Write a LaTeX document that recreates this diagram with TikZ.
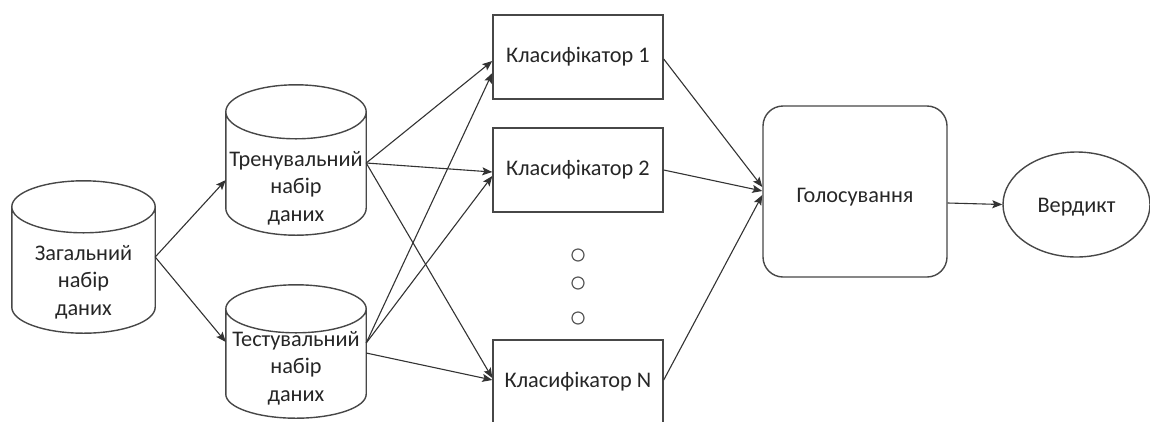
\documentclass[tikz,border=0pt]{standalone}
\usepackage{fontspec}
\setmainfont{Carlito}
\usetikzlibrary{arrows.meta,calc,shapes.geometric}
\tikzset{
  ln/.style={draw=black!72, line width=1.4pt},
  arr/.style={draw=black!80, line width=1.1pt, -{Stealth[length=10pt,width=8pt,inset=2pt]}},
  txt/.style={text=black!85, align=center, font=\fontsize{22.3}{27.5}\selectfont, inner sep=0pt},
  area/.style={draw=none, inner sep=0pt, minimum width=#1},
  boxk/.style={ln, rectangle, minimum width=170pt, minimum height=84pt, txt},
  dotc/.style={draw=black!65, line width=1.2pt},
}
\newcommand\cylout[2]{%
  \draw[ln] let \p1=(#1.north west), \p2=(#1.south east), \n1={(\x2-\x1)/2} in
    ({(\x1+\x2)/2},{\y1-#2}) ellipse[x radius=\n1, y radius=#2]
    (\x1,{\y1-#2}) -- (\x1,{\y2+#2}) arc[start angle=180,end angle=360,x radius=\n1,y radius=#2] -- (\x2,{\y1-#2});
}
\begin{document}
\begin{tikzpicture}[x=1pt,y=-1pt]
\useasboundingbox (0,0) rectangle (1150,421);
% cylinder areas
\node[area=143pt, minimum height=152pt] (c1) at (83.5,257) {};
\node[area=140pt, minimum height=150pt] (c2) at (296,160) {};
\node[area=140pt, minimum height=133pt] (c3) at (296,351.5) {};
\cylout{c1}{26pt}
\cylout{c2}{27pt}
\cylout{c3}{24pt}
\node[txt] (t1) at (83.5,282) {Загальний\\набір\\даних};
\node[txt] (t2) at (296,188) {Тренувальний\\набір\\даних};
\node[txt] (t3) at (296,368) {Тестувальний\\набір\\даних};
% classifiers
\node[boxk] (k1) at (578,57) {Класифікатор 1};
\node[boxk] (k2) at (578,170) {Класифікатор 2};
\node[boxk] (kn) at (578,382) {Класифікатор N};
\node[dotc, circle, minimum size=12pt, inner sep=0pt] (d1) at (578,255) {};
\node[dotc, circle, minimum size=12pt, inner sep=0pt] (d2) at (578,283) {};
\node[dotc, circle, minimum size=12pt, inner sep=0pt] (d3) at (578,318) {};
% voting
\node[ln, rectangle, rounded corners=20pt, minimum width=184pt, minimum height=171pt] (g) at (855,191.5) {};
\node[txt] (gt) at (855,197) {Голосування};
\node[ln, ellipse, minimum width=147pt, minimum height=105pt, inner sep=0pt] (v) at (1076.5,204.5) {};
\node[txt] (vt) at (1076.5,207) {Вердикт};
% arrows
\draw[arr] (c1.east) -- ([yshift=-20pt]c2.west);
\draw[arr] (c1.east) -- ([yshift=9.5pt]c3.west);
\draw[arr] ([yshift=-3pt]c2.east) -- ([yshift=-4pt]k1.west);
\draw[arr] ([yshift=-3pt]c2.east) -- ([yshift=-2pt]k2.west);
\draw[arr] ([yshift=-3pt]c2.east) -- ([yshift=4pt]kn.west);
\draw[arr] ([yshift=8.5pt]c3.east) -- ([yshift=-16pt]k1.west);
\draw[arr] ([yshift=8.5pt]c3.east) -- ([yshift=-6pt]k2.west);
\draw[arr] ([yshift=-1.5pt]c3.east) -- ([yshift=2pt]kn.west);
\draw[arr] ([yshift=-2pt]k1.east) -- ([yshift=4.5pt]g.west);
\draw[arr] (k2.east) -- ([yshift=0.5pt]g.west);
\draw[arr] ([yshift=2pt]kn.east) -- ([yshift=-3.5pt]g.west);
\draw[arr] ([yshift=-11.5pt]g.east) -- (v.west);
\end{tikzpicture}
\end{document}
